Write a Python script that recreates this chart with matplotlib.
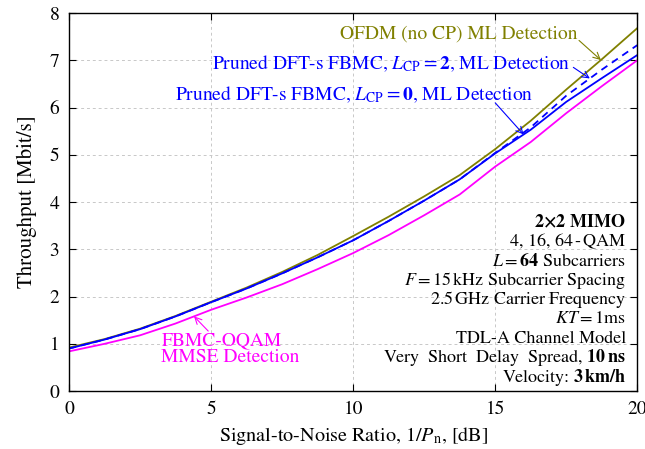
import numpy as np
import matplotlib
matplotlib.use('Agg')
import matplotlib.pyplot as plt

plt.rcParams['font.family'] = ['STIXGeneral', 'DejaVu Serif']
plt.rcParams['mathtext.fontset'] = 'stix'

# SNR points [dB]
snr = [0, 1.25, 2.5, 3.75, 5, 6.25, 7.5, 8.75, 10, 11.25, 12.5, 13.75, 15, 16.25, 17.5, 18.75, 20]

# throughput [Mbit/s]
ofdm_ml = [0.92, 1.10, 1.32, 1.59, 1.89, 2.19, 2.52, 2.88, 3.28, 3.69, 4.12, 4.57, 5.12, 5.72, 6.38, 7.02, 7.68]
fbmc_cp2 = [0.90, 1.09, 1.31, 1.58, 1.88, 2.17, 2.49, 2.83, 3.19, 3.60, 4.03, 4.48, 5.04, 5.58, 6.25, 6.80, 7.32]
fbmc_cp0 = [0.90, 1.09, 1.31, 1.58, 1.88, 2.17, 2.49, 2.83, 3.19, 3.60, 4.03, 4.48, 5.03, 5.53, 6.12, 6.62, 7.11]
oqam_mmse = [0.84, 1.00, 1.18, 1.43, 1.72, 1.98, 2.26, 2.58, 2.92, 3.30, 3.72, 4.16, 4.75, 5.27, 5.88, 6.45, 7.00]

olive = '#808000'
blue = '#0000ff'
magenta = '#ff00ff'

info_lines = [
    r'$\mathbf{2{\times}2}$ $\mathbf{MIMO}$',
    r'4, 16, 64$\,$-$\,$QAM',
    r'$L = \mathbf{64}$ Subcarriers',
    r'$F = 15\,$kHz Subcarrier Spacing',
    r'2.5$\,$GHz Carrier Frequency',
    r'$KT = 1$ms',
    r'TDL-A Channel Model',
    r'Very  Short  Delay  Spread, $\mathbf{10\,ns}$',
    r'Velocity: $\mathbf{3\,km/h}$',
]

fig = plt.figure(figsize=(6.45, 4.49), dpi=100)
ax = fig.add_axes([0.107, 0.129, 0.881, 0.842])

ax.plot(snr, ofdm_ml, color=olive, lw=1.3)
ax.plot(snr, fbmc_cp2, color=blue, lw=1.3, ls=(0, (4, 3)))
ax.plot(snr, fbmc_cp0, color=blue, lw=1.3)
ax.plot(snr, oqam_mmse, color=magenta, lw=1.3)

ax.set_xlim(0, 20)
ax.set_ylim(0, 8)
ax.set_xticks([0, 5, 10, 15, 20])
ax.set_yticks(range(0, 9))
ax.grid(True, color='#c8c8c8', ls=(0, (3, 3)), lw=0.7)
ax.tick_params(direction='in', top=True, right=True, labelsize=14, length=5, pad=7)
for s in ax.spines.values():
    s.set_linewidth(1.0)

ax.set_xlabel(r'Signal-to-Noise Ratio, $1/P_{\rm n}$, [dB]', fontsize=14.5, labelpad=5)
ax.set_ylabel('Throughput [Mbit/s]', fontsize=15, labelpad=9)

fs = 14
arw = dict(arrowstyle='->', lw=0.8, shrinkA=0, shrinkB=0, mutation_scale=12)

# labels
ax.text(17.9, 7.55, 'OFDM (no CP) ML Detection', color=olive, fontsize=fs, ha='right', va='center')
ax.text(17.65, 6.92, r'Pruned DFT-s FBMC, $L_{\rm CP} = \mathbf{2}$, ML Detection',
        color=blue, fontsize=fs, ha='right', va='center')
ax.text(16.35, 6.27, r'Pruned DFT-s FBMC, $L_{\rm CP} = \mathbf{0}$, ML Detection',
        color=blue, fontsize=fs, ha='right', va='center')
ax.text(3.25, 0.89, 'FBMC-OQAM\nMMSE Detection', color=magenta, fontsize=fs,
        ha='left', va='center', linespacing=0.9)

# arrows
ax.annotate('', xy=(18.72, np.interp(18.72, snr, ofdm_ml)), xytext=(17.95, 7.42),
            arrowprops=dict(arw, color=olive))
ax.annotate('', xy=(18.33, np.interp(18.33, snr, fbmc_cp2)), xytext=(17.75, 6.85),
            arrowprops=dict(arw, color=blue))
ax.annotate('', xy=(16.0, np.interp(16.0, snr, fbmc_cp0)), xytext=(15.0, 6.1),
            arrowprops=dict(arw, color=blue))
ax.annotate('', xy=(4.4, np.interp(4.4, snr, oqam_mmse)), xytext=(4.9, 1.27),
            arrowprops=dict(arw, color=magenta))

y0 = 3.57
for i, line in enumerate(info_lines):
    ax.text(19.6, y0 - i * 0.41, line, fontsize=13, ha='right', va='center')

fig.savefig('out.png', dpi=100)
